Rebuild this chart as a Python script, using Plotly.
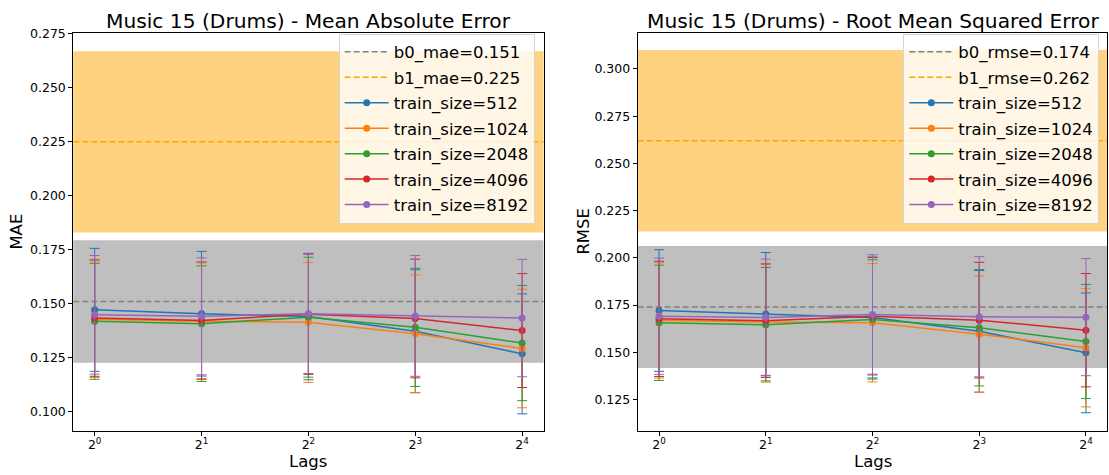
import math
import plotly.graph_objects as go

# ---------------- data ----------------
lags = [1, 2, 4, 8, 16]
lag_ticktext = ["2<sup>0</sup>", "2<sup>1</sup>", "2<sup>2</sup>", "2<sup>3</sup>", "2<sup>4</sup>"]
train_sizes = [512, 1024, 2048, 4096, 8192]

mae_mean_512 = [0.1471, 0.1453, 0.1440, 0.1372, 0.1267]
mae_mean_1024 = [0.1428, 0.1418, 0.1413, 0.1360, 0.1292]
mae_mean_2048 = [0.1418, 0.1407, 0.1437, 0.1390, 0.1317]
mae_mean_4096 = [0.1433, 0.1422, 0.1451, 0.1431, 0.1375]
mae_mean_8192 = [0.1448, 0.1441, 0.1453, 0.1443, 0.1433]

mae_std_512 = [0.0285, 0.0289, 0.0293, 0.0285, 0.0278]
mae_std_1024 = [0.0270, 0.0270, 0.0278, 0.0273, 0.0275]
mae_std_2048 = [0.0269, 0.0268, 0.0278, 0.0274, 0.0267]
mae_std_4096 = [0.0270, 0.0271, 0.0279, 0.0275, 0.0264]
mae_std_8192 = [0.0275, 0.0271, 0.0277, 0.0280, 0.0272]

rmse_mean_512 = [0.1721, 0.1703, 0.1684, 0.1611, 0.1497]
rmse_mean_1024 = [0.1669, 0.1660, 0.1656, 0.1596, 0.1524]
rmse_mean_2048 = [0.1656, 0.1646, 0.1674, 0.1630, 0.1557]
rmse_mean_4096 = [0.1677, 0.1667, 0.1691, 0.1670, 0.1617]
rmse_mean_8192 = [0.1691, 0.1684, 0.1700, 0.1688, 0.1686]

rmse_std_512 = [0.0322, 0.0325, 0.0320, 0.0322, 0.0317]
rmse_std_1024 = [0.0305, 0.0310, 0.0313, 0.0308, 0.0313]
rmse_std_2048 = [0.0305, 0.0303, 0.0316, 0.0308, 0.0302]
rmse_std_4096 = [0.0305, 0.0300, 0.0311, 0.0306, 0.0300]
rmse_std_8192 = [0.0308, 0.0309, 0.0316, 0.0318, 0.0310]

b0_mae, b0_mae_std = 0.151, 0.0284
b1_mae, b1_mae_std = 0.225, 0.0420
b0_rmse, b0_rmse_std = 0.174, 0.0323
b1_rmse, b1_rmse_std = 0.262, 0.0480

mae_means = [mae_mean_512, mae_mean_1024, mae_mean_2048, mae_mean_4096, mae_mean_8192]
mae_stds = [mae_std_512, mae_std_1024, mae_std_2048, mae_std_4096, mae_std_8192]
rmse_means = [rmse_mean_512, rmse_mean_1024, rmse_mean_2048, rmse_mean_4096, rmse_mean_8192]
rmse_stds = [rmse_std_512, rmse_std_1024, rmse_std_2048, rmse_std_4096, rmse_std_8192]

colors = ["#1f77b4", "#ff7f0e", "#2ca02c", "#d62728", "#9467bd"]

W, H = 1109, 475
FONT = "DejaVu Sans"

def px_x(p):
    return p / W

def px_y(p):
    return (H - p) / H

fig = go.Figure()

panels = [
    dict(xa="x", ya="y", legend="legend", means=mae_means, stds=mae_stds,
         b0=b0_mae, b0s=b0_mae_std, b1=b1_mae, b1s=b1_mae_std, tag="mae"),
    dict(xa="x2", ya="y2", legend="legend2", means=rmse_means, stds=rmse_stds,
         b0=b0_rmse, b0s=b0_rmse_std, b1=b1_rmse, b1s=b1_rmse_std, tag="rmse"),
]

shapes = []
for p in panels:
    for i, ts in enumerate(train_sizes):
        fig.add_trace(go.Scatter(
            x=lags, y=p["means"][i], mode="lines+markers",
            name=f"train_size={ts}",
            line=dict(color=colors[i], width=1.5),
            marker=dict(color=colors[i], size=7),
            error_y=dict(type="data", array=p["stds"][i], visible=True,
                         color=colors[i], thickness=1, width=5),
            xaxis=p["xa"], yaxis=p["ya"], legend=p["legend"],
            legendgroup=f"{p['tag']}_{ts}", legendrank=10 + i,
        ))
    xref = p["xa"] + " domain"
    shapes.append(dict(type="rect", xref=xref, yref=p["ya"], x0=0, x1=1,
                       y0=p["b1"] - p["b1s"], y1=p["b1"] + p["b1s"],
                       fillcolor="rgba(255,165,0,0.5)", line=dict(width=0), layer="below"))
    shapes.append(dict(type="rect", xref=xref, yref=p["ya"], x0=0, x1=1,
                       y0=p["b0"] - p["b0s"], y1=p["b0"] + p["b0s"],
                       fillcolor="rgba(128,128,128,0.5)", line=dict(width=0), layer="below"))
    shapes.append(dict(type="line", xref=xref, yref=p["ya"], x0=0, x1=1,
                       y0=p["b0"], y1=p["b0"], layer="below",
                       line=dict(color="#808080", width=1.5, dash="6px,3px"),
                       showlegend=True, name=f"b0_{p['tag']}={p['b0']:.3f}",
                       legend=p["legend"], legendgroup=f"{p['tag']}_b0", legendrank=1))
    shapes.append(dict(type="line", xref=xref, yref=p["ya"], x0=0, x1=1,
                       y0=p["b1"], y1=p["b1"], layer="below",
                       line=dict(color="#FFA500", width=1.5, dash="6px,3px"),
                       showlegend=True, name=f"b1_{p['tag']}={p['b1']:.3f}",
                       legend=p["legend"], legendgroup=f"{p['tag']}_b1", legendrank=2))

fig.update_layout(shapes=shapes)

axis_common = dict(showline=True, linecolor="black", linewidth=1, mirror=True,
                   ticks="outside", ticklen=4, tickcolor="black", showgrid=False,
                   zeroline=False, tickfont=dict(family=FONT, size=12.5, color="black"))

xr = [math.log10(2 ** -0.2), math.log10(2 ** 4.2)]

legend_common = dict(xanchor="right", yanchor="top",
                     bgcolor="rgba(255,255,255,0.8)", bordercolor="#d5d5d5", borderwidth=1,
                     font=dict(family=FONT, size=16.5, color="black"),
                     traceorder="grouped", tracegroupgap=1, itemwidth=44)

fig.update_layout(
    width=W, height=H,
    margin=dict(l=0, r=0, t=0, b=0),
    paper_bgcolor="white", plot_bgcolor="white",
    font=dict(family=FONT, color="black"),
    xaxis=dict(domain=[px_x(73.3), px_x(543.5)], type="log", range=xr,
               tickvals=lags, ticktext=lag_ticktext, anchor="y",
               ticklabelstandoff=-2, **axis_common),
    yaxis=dict(domain=[px_y(430.3), px_y(27)], range=[0.0910, 0.2756],
               tick0=0.1, dtick=0.025, tickformat=".3f", anchor="x", **axis_common),
    xaxis2=dict(domain=[px_x(637.7), px_x(1107.3)], type="log", range=xr,
                tickvals=lags, ticktext=lag_ticktext, anchor="y2",
                ticklabelstandoff=-2, **axis_common),
    yaxis2=dict(domain=[px_y(430.3), px_y(27)], range=[0.1084, 0.3192],
                tick0=0.1, dtick=0.025, tickformat=".3f", anchor="x2", **axis_common),
    legend=dict(x=px_x(534.7), y=px_y(28), **legend_common),
    legend2=dict(x=px_x(1099.3), y=px_y(28), **legend_common),
    annotations=[
        dict(text="Music 15 (Drums) - Mean Absolute Error", x=px_x(308.4), y=px_y(15),
             xref="paper", yref="paper", showarrow=False, xanchor="center", yanchor="middle",
             font=dict(family=FONT, size=20.2, color="black")),
        dict(text="Music 15 (Drums) - Root Mean Squared Error", x=px_x(872.5), y=px_y(15),
             xref="paper", yref="paper", showarrow=False, xanchor="center", yanchor="middle",
             font=dict(family=FONT, size=20.2, color="black")),
        dict(text="MAE", x=px_x(17), y=px_y(228.5), xref="paper", yref="paper",
             showarrow=False, textangle=-90, xanchor="center", yanchor="middle",
             font=dict(family=FONT, size=16.5, color="black")),
        dict(text="RMSE", x=px_x(584), y=px_y(228.5), xref="paper", yref="paper",
             showarrow=False, textangle=-90, xanchor="center", yanchor="middle",
             font=dict(family=FONT, size=16.5, color="black")),
        dict(text="Lags", x=px_x(308.4), y=px_y(461), xref="paper", yref="paper",
             showarrow=False, xanchor="center", yanchor="middle",
             font=dict(family=FONT, size=16.5, color="black")),
        dict(text="Lags", x=px_x(872.5), y=px_y(461), xref="paper", yref="paper",
             showarrow=False, xanchor="center", yanchor="middle",
             font=dict(family=FONT, size=16.5, color="black")),
    ],
)

post = ("document.documentElement.style.margin='0';document.body.style.margin='0';"
        "document.body.style.padding='0';document.body.style.overflow='hidden';"
        "var d=document.getElementById('{plot_id}');"
        "d.style.position='absolute';d.style.left='0px';d.style.top='0px';")

fig.write_html("out.html", post_script=post, config={"displayModeBar": False})
